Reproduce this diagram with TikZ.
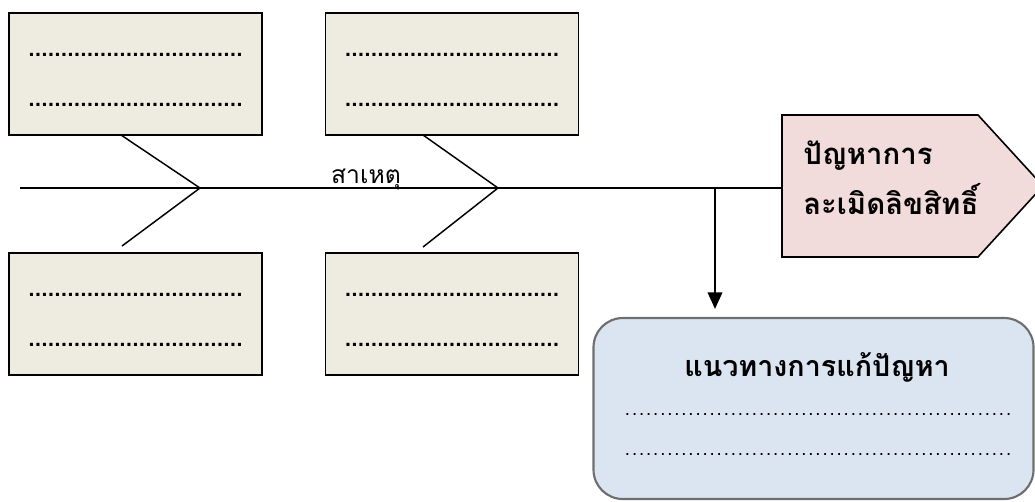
\documentclass[tikz,border=0pt]{standalone}
\usepackage{fontspec}
\setmainfont{Liberation Sans}
\newfontfamily\thaifont[Script=Thai]{Loma}
\usetikzlibrary{arrows.meta}
\definecolor{boxfill}{HTML}{EEECE1}
\definecolor{pentfill}{HTML}{F2DCDB}
\definecolor{solfill}{HTML}{DBE5F1}
\definecolor{solborder}{HTML}{6E6E6E}
\newcommand\dotrow[2]{\foreach \i in {1,...,#1}{\makebox[#2]{.}}}
\tikzset{
  causebox/.style={draw=black, line width=1.4pt, fill=boxfill, minimum width=253*0.75pt, minimum height=122*0.75pt, inner sep=0pt},
  dotsA/.style={inner sep=0pt, font=\fontsize{16pt}{16pt}\bfseries\selectfont},
  dotsB/.style={inner sep=0pt, font=\fontsize{14pt}{14pt}\selectfont},
  bone/.style={line width=1.1pt, draw=black},
  probtext/.style={anchor=base west, inner sep=0pt, font=\thaifont\bfseries\fontsize{22pt}{22pt}\selectfont},
}
\begin{document}
\begin{tikzpicture}[x=0.75pt,y=-0.75pt]
\useasboundingbox (0,0) rectangle (1035,501);
% cause boxes
\node[causebox] (b1) at (135.5,74) {};
\node[causebox] (b2) at (452,74) {};
\node[causebox] (b3) at (135.5,314) {};
\node[causebox] (b4) at (452,314) {};
\foreach \b/\x/\y in {b1/135.5/74, b2/452/74, b3/135.5/314, b4/452/314}{
  \node[dotsA] (\b d1) at (\x,\y-19) {\dotrow{33}{4.875pt}};
  \node[dotsA] (\b d2) at (\x,\y+31) {\dotrow{33}{4.875pt}};
}
% fishbone
\coordinate (s0) at (20,188);
\coordinate (v1) at (200,188);
\coordinate (v2) at (498,188);
\coordinate (u1) at (121,135);
\coordinate (l1) at (122,246);
\coordinate (u2) at (423,135);
\coordinate (l2) at (423,247);
\coordinate (j) at (715,188);
\coordinate (pw) at (782,188);
% problem pentagon
\path[draw=black, line width=1.2pt, fill=pentfill] (782,115) -- (978,115) -- (1043,186) -- (978,257) -- (782,257) -- cycle;
\node[probtext] (prob1) at (803,164) {ปัญหาการ};
\node[probtext] (prob2) at (803,214) {ละเมิดลิขสิทธิ์};
\draw[bone] (s0) -- (pw);
\draw[bone] (u1) -- (v1) -- (l1);
\draw[bone] (u2) -- (v2) -- (l2);
\node[anchor=base, inner sep=0pt, font=\thaifont\fontsize{18.5pt}{18.5pt}\selectfont] (cause) at (366,183.5) {สาเหตุ};
% solution box
\node[draw=solborder, line width=1.6pt, fill=solfill, rounded corners=22pt, minimum width=440*0.75pt, minimum height=181*0.75pt, inner sep=0pt] (sol) at (813.5,408.5) {};
\node[anchor=base, inner sep=0pt, font=\thaifont\bfseries\fontsize{21.5pt}{21.5pt}\selectfont] (soltitle) at (817,376) {แนวทางการแก้ปัญหา};
\node[dotsB] (sd1) at (818,414) {\dotrow{55}{5.29pt}};
\node[dotsB] (sd2) at (818,454) {\dotrow{55}{5.29pt}};
\draw[line width=1.4pt, -{Triangle[length=12.5pt,width=11pt]}] (j) -- (sol.north -| j) [shorten >=8*0.75pt];
\end{tikzpicture}
\end{document}
